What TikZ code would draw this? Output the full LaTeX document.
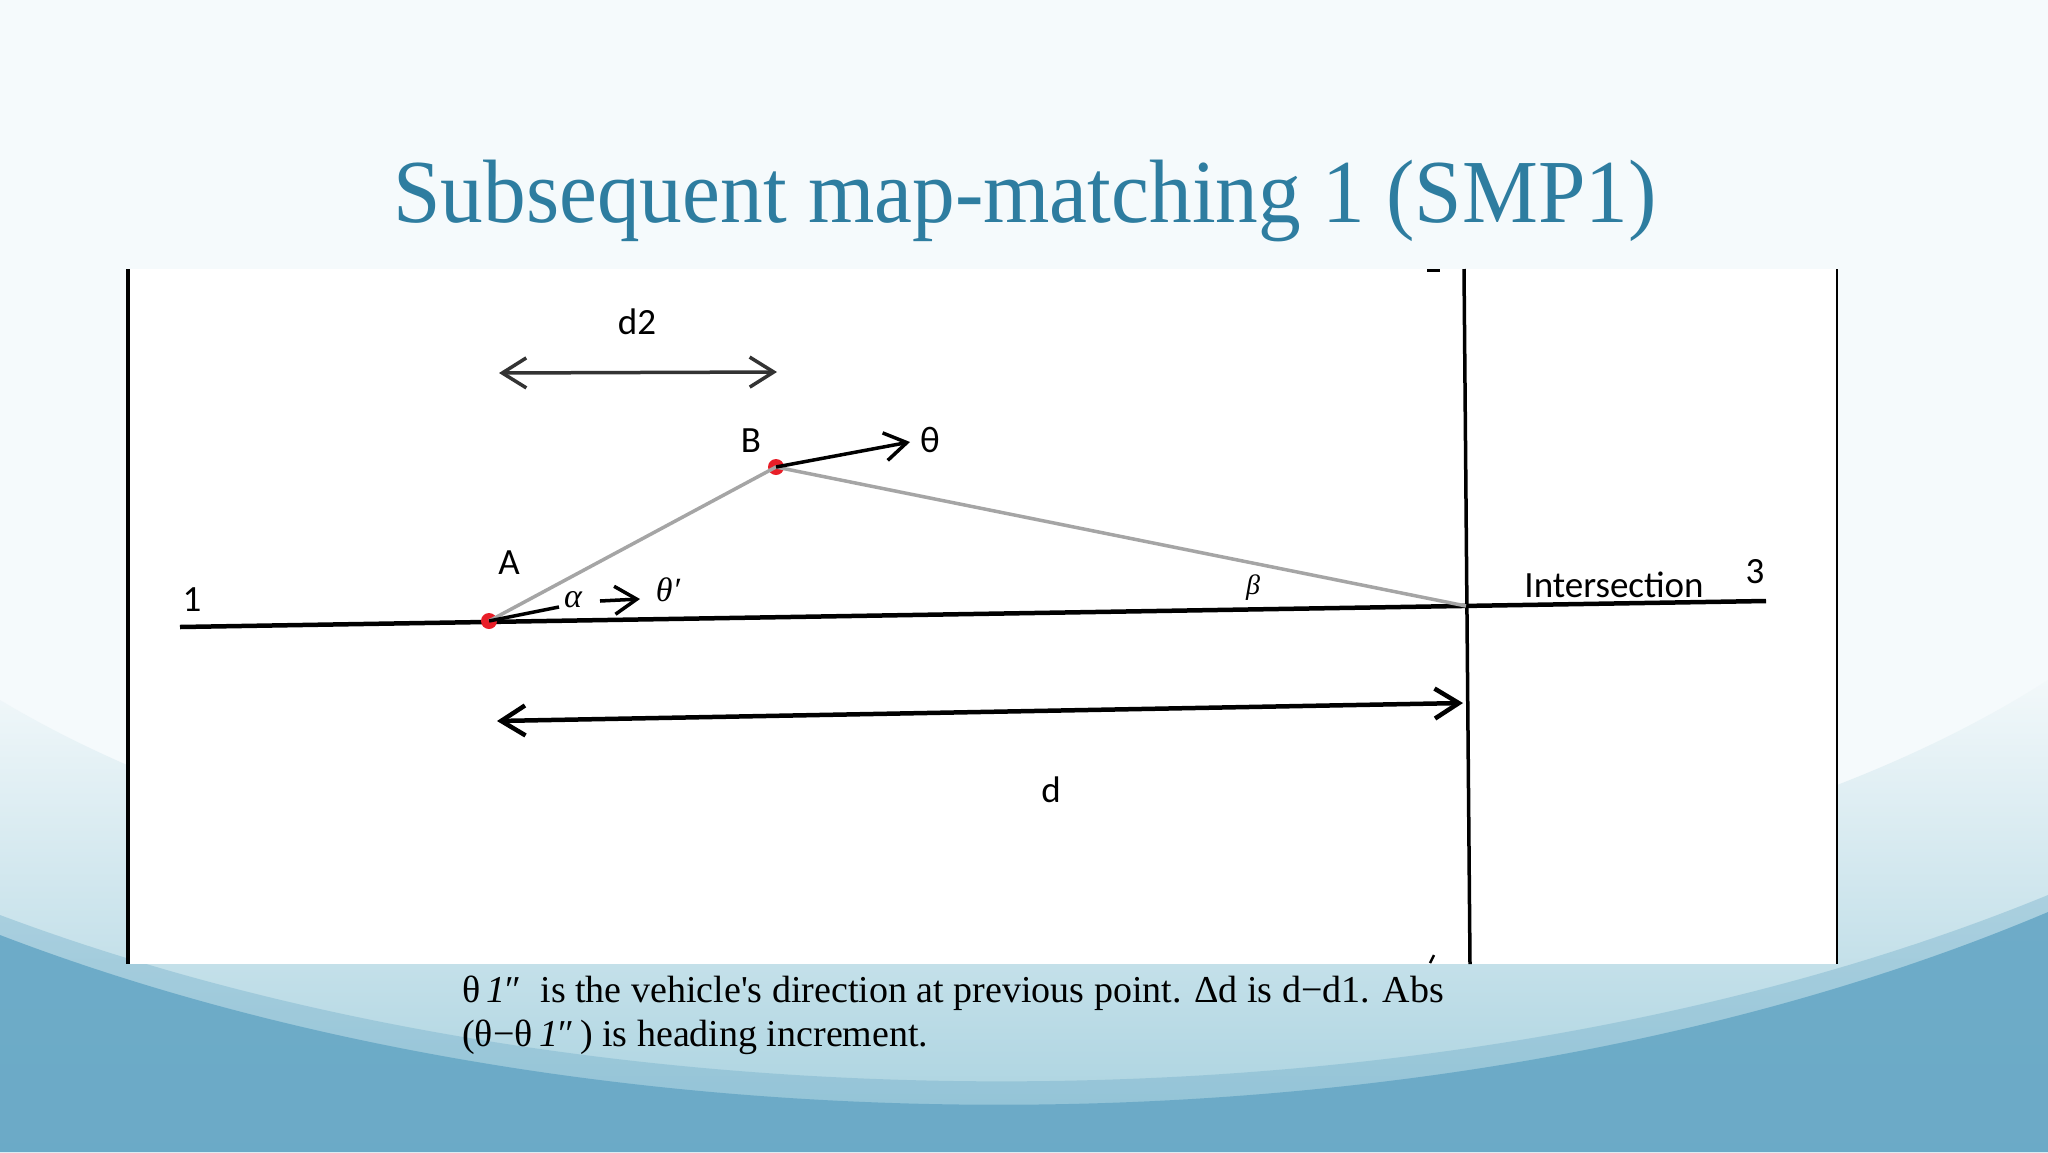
\documentclass[tikz,border=0pt]{standalone}
\usepackage{fontspec}
\setmainfont{Liberation Serif}
\newfontfamily\lblfont{Carlito}
\usetikzlibrary{arrows.meta}

\definecolor{titleblue}{RGB}{46,125,160}
\definecolor{paleback}{RGB}{245,250,252}
\definecolor{wavelight}{RGB}{242,248,250}
\definecolor{wavemid}{RGB}{165,208,222}
\definecolor{wavedark}{RGB}{104,168,198}
\definecolor{wavecentre}{RGB}{142,196,212}
\definecolor{dotred}{RGB}{232,30,40}
\definecolor{raygray}{RGB}{165,165,165}

\begin{document}
\begin{tikzpicture}[x=1pt,y=-1pt,
		dot/.style = {circle,fill=dotred,inner sep=0pt,minimum size=16pt},
		lbl/.style = {font=\lblfont\fontsize{37}{40}\selectfont,inner sep=0pt},
		greek/.style = {font=\itshape\fontsize{34}{40}\selectfont,inner sep=0pt},
		road/.style = {line width=4.5pt},
		ray/.style = {line width=3.5pt,raygray},
		barb/.tip = {Straight Barb[length=22pt,width=28pt]},
		dim/.style = {line width=3.5pt,{Straight Barb[length=24pt,width=30pt]}-{Straight Barb[length=24pt,width=30pt]}}]
		
		\useasboundingbox (0,0) rectangle (2048,1152);
		
		% slide background
		\fill[paleback] (0,0) rectangle (2048,1152);
		\shade[top color=wavelight,bottom color=wavemid]
		(0,700) .. controls (500,1000) and (1548,1000) .. (2048,680) -- (2048,1152) -- (0,1152) -- cycle;
		\shade[left color=wavedark,middle color=wavecentre,right color=wavedark,opacity=0.35]
		(0,915) .. controls (600,1140) and (1450,1140) .. (2048,895) -- (2048,1152) -- (0,1152) -- cycle;
		\shade[left color=wavedark,middle color=wavecentre,right color=wavedark,opacity=0.9]
		(0,935) .. controls (600,1165) and (1450,1165) .. (2048,912) -- (2048,1152) -- (0,1152) -- cycle;
		
		% title
		\node[anchor=base,text=titleblue,font=\fontsize{90}{100}\selectfont,inner sep=0pt] (title) at (1025,222) {\scalebox{0.948}[1]{Subsequent map-matching 1 (SMP1)}};
		
		% picture panel
		\fill[white] (127,269) rectangle (1838,964);
		\coordinate (p1) at (128,269);
		\coordinate (p2) at (128,964);
		\coordinate (p3) at (1837,269);
		\coordinate (p4) at (1837,964);
		\coordinate (c1) at (1464,269);
		\coordinate (c2) at (1470,964);
		\draw[line width=3.5pt] (p1) -- (p2);
		\draw[line width=2.5pt] (p3) -- (p4);
		\draw[line width=3.5pt] (c1) -- (c2);
		\draw[line width=3pt] (1427,270) -- (1440,270);
		\draw[line width=2.5pt] (1430,963) -- (1434,955);
		
		% road and points
		\coordinate (r1) at (180,627);
		\coordinate (r3) at (1766,601);
		\coordinate (X) at (1466,606);
		\draw[road] (r1) -- (r3);
		\node[dot] (A) at (489,621) {};
		\node[dot] (B) at (776,467) {};
		\draw[ray] (A.center) -- (B.center) -- (X);
		
		% headings
		\coordinate (t1) at (910,442);
		\draw[line width=3.5pt,-barb] (B.center) -- (t1);
		\coordinate (a1) at (559,607);
		\draw[line width=3.5pt] (A.center) -- (a1);
		\coordinate (h1) at (600,601);
		\coordinate (h2) at (640,599);
		\draw[line width=3.5pt,-barb] (h1) -- (h2);
		
		% distances
		\coordinate (d2a) at (499,373);
		\coordinate (d2b) at (777,372);
		\draw[dim,black!80] (d2a) -- (d2b);
		\coordinate (da) at (497,721);
		\coordinate (db) at (1463,703);
		\draw[dim,line width=4.5pt] (da) -- (db);
		
		% labels
		\node[lbl] (lA) at (509,563) {A};
		\node[lbl] (lB) at (751,441) {B};
		\node[lbl] (lt) at (930,440) {θ};
		\node[greek] (la) at (573,600) {α};
		\node[greek] (ltp) at (668,590) {θ′};
		\node[greek,font=\itshape\fontsize{28}{32}\selectfont] (lb) at (1253,588) {β};
		\node[lbl] (l1) at (192,600) {1};
		\node[lbl] (l3) at (1755,572) {3};
		\node[lbl] (li) at (1614,585) {Intersection};
		\node[lbl] (ld2) at (637,322) {d2};
		\node[lbl] (ld) at (1051,790) {d};
		
		% caption
		\node[anchor=base west,align=left,font=\fontsize{38}{44}\selectfont,inner sep=0pt] (cap) at (462,1046)
		{θ\,{\itshape 1}″\ \ is the vehicle\textquotesingle s direction at previous point. Δd is d−d1. Abs\\(θ−θ\,{\itshape 1}″\,) is heading increment.};
		\end{tikzpicture}
\end{document}
